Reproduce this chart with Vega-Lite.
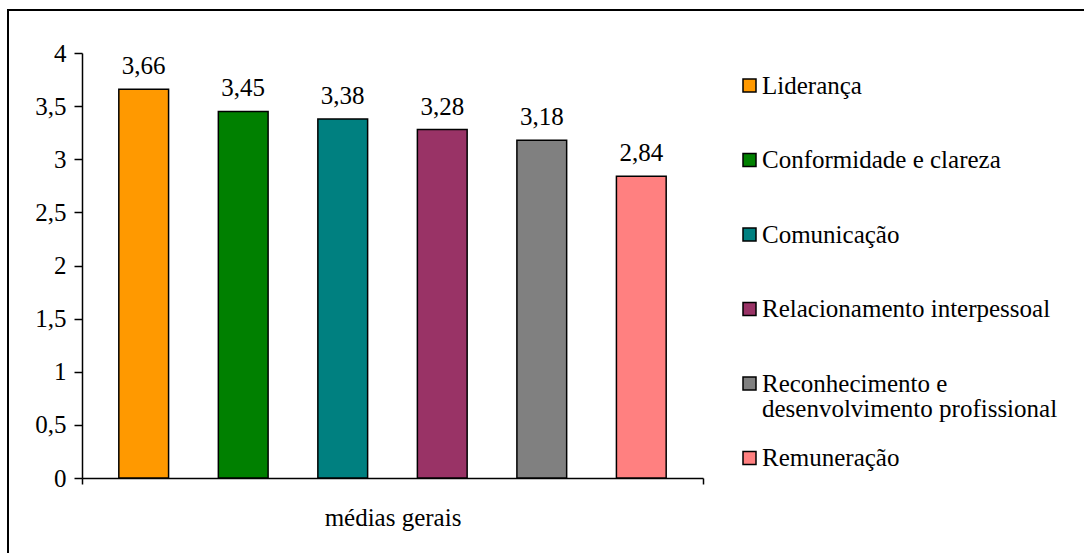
{
  "$schema": "https://vega.github.io/schema/vega-lite/v6.json",
  "width": 1076,
  "height": 543,
  "autosize": {"type": "none"},
  "padding": {"left": 8, "top": 10, "right": 0, "bottom": 0},
  "background": "white",
  "config": {
    "locale": {"number": {"decimal": ",", "thousands": ".", "grouping": [3], "currency": ["", ""]}},
    "font": "Liberation Serif",
    "style": {"guide-label": {"font": "Liberation Serif", "fill": "#000000", "lineHeight": 25}},
    "axis": {"labelFont": "Liberation Serif"},
    "legend": {"labelFont": "Liberation Serif"},
    "view": {"stroke": "#000000", "strokeWidth": 2, "strokeDash": [1076, 1619, 543]}
  },
  "data": {
    "values": [
      {"grupo": "médias gerais", "serie": "Liderança", "valor": 3.66},
      {"grupo": "médias gerais", "serie": "Conformidade e clareza", "valor": 3.45},
      {"grupo": "médias gerais", "serie": "Comunicação", "valor": 3.38},
      {"grupo": "médias gerais", "serie": "Relacionamento interpessoal", "valor": 3.28},
      {"grupo": "médias gerais", "serie": "Reconhecimento e desenvolvimento profissional", "valor": 3.18},
      {"grupo": "médias gerais", "serie": "Remuneração", "valor": 2.84}
    ]
  },
  "encoding": {
    "x": {
      "field": "grupo", "type": "nominal",
      "scale": {"range": [74, 695], "paddingInner": 0, "paddingOuter": 0},
      "axis": {
        "title": null, "tickBand": "extent", "labelAngle": 0,
        "domainColor": "#000000", "domainWidth": 1.5,
        "tickColor": "#000000", "tickWidth": 1.5, "tickSize": 6,
        "labelFontSize": 25, "labelColor": "#000000", "labelPadding": 21,
        "labelFont": "Liberation Serif",
        "offset": -75
      }
    },
    "xOffset": {
      "field": "serie", "type": "nominal", "sort": null,
      "scale": {"paddingInner": 0.5, "paddingOuter": 0.37}
    },
    "y": {
      "field": "valor", "type": "quantitative",
      "scale": {"domain": [0, 4], "range": [468, 43], "nice": false},
      "axis": {
        "title": null, "values": [0, 0.5, 1, 1.5, 2, 2.5, 3, 3.5, 4], "format": "~g", "grid": false,
        "domainColor": "#000000", "domainWidth": 1.5,
        "tickColor": "#000000", "tickWidth": 1.5, "tickSize": 8,
        "labelFontSize": 25, "labelColor": "#000000", "labelPadding": 8,
        "labelFont": "Liberation Serif",
        "offset": -74
      }
    }
  },
  "layer": [
    {
      "mark": {"type": "bar", "stroke": "#000000", "strokeWidth": 1.5},
      "encoding": {
        "color": {
          "field": "serie", "type": "nominal", "sort": null,
          "scale": {
            "domain": ["Liderança", "Conformidade e clareza", "Comunicação", "Relacionamento interpessoal", "Reconhecimento e desenvolvimento profissional", "Remuneração"],
            "range": ["#FF9900", "#008000", "#008080", "#993366", "#808080", "#FF8080"]
          },
          "legend": {
            "title": null, "orient": "none", "legendX": 729, "legendY": 63,
            "padding": 0, "gridAlign": "all", "rowPadding": 23.5,
            "symbolType": "square", "symbolSize": 169,
            "symbolStrokeColor": "#000000", "symbolStrokeWidth": 1.5, "symbolFillOpacity": 1,
            "labelFontSize": 25, "labelColor": "#000000", "labelFont": "Liberation Serif",
            "labelOffset": 0, "labelLimit": 600,
            "labelExpr": "datum.label == 'Reconhecimento e desenvolvimento profissional' ? ['Reconhecimento e', 'desenvolvimento profissional'] : datum.label"
          }
        }
      }
    },
    {
      "mark": {"type": "text", "baseline": "alphabetic", "dy": -15, "fontSize": 25, "color": "#000000", "font": "Liberation Serif"},
      "encoding": {
        "text": {"field": "valor", "type": "quantitative", "format": ".2f"}
      }
    }
  ]
}
